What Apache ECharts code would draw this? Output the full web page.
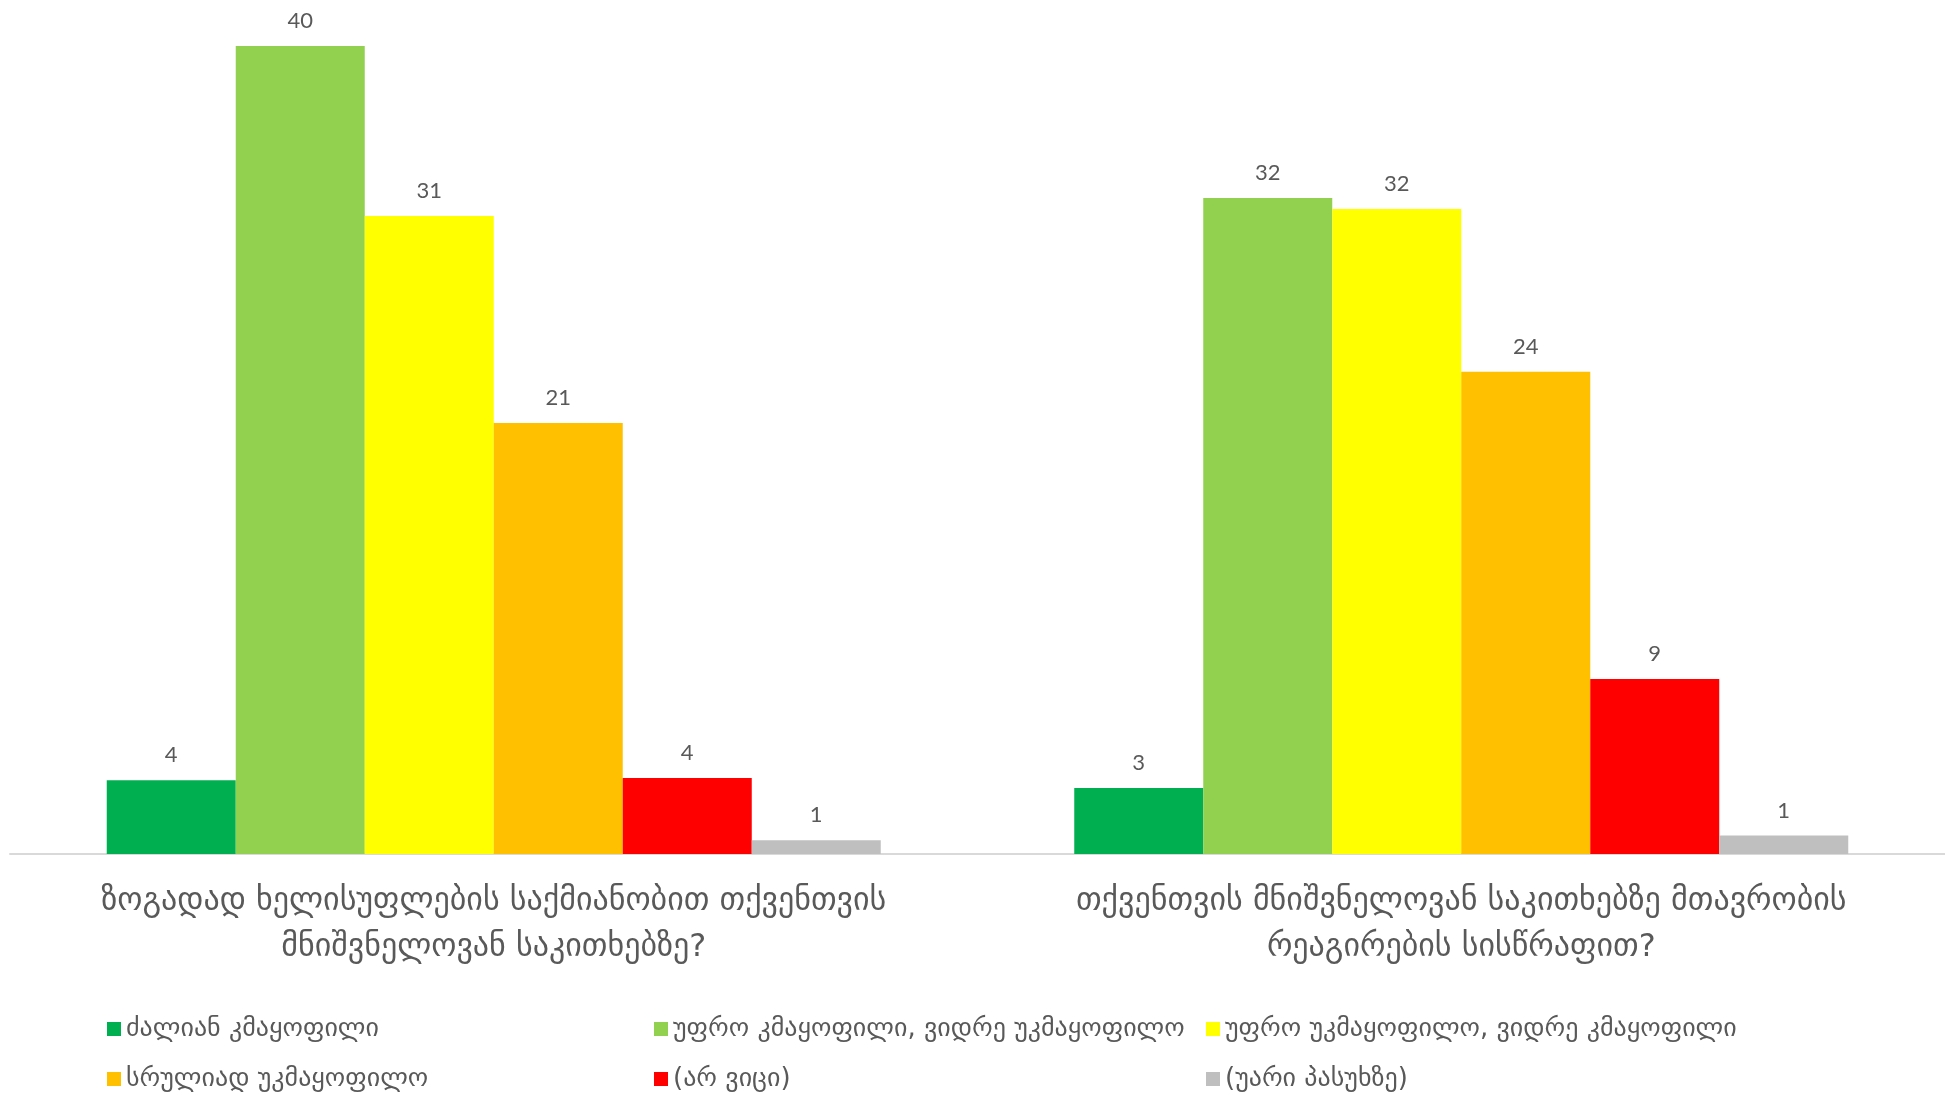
<!DOCTYPE html>
<html>
<head>
<meta charset="utf-8">
<script src="https://cdn.jsdelivr.net/npm/echarts@6/dist/echarts.min.js"></script>
<style>html,body{margin:0;padding:0;background:#fff}#c{width:1945px;height:1095px}</style>
</head>
<body>
<div id="c"></div>
<script>
const categories = [
  'ზოგადად ხელისუფლების საქმიანობით თქვენთვის\nმნიშვნელოვან საკითხებზე?',
  'თქვენთვის მნიშვნელოვან საკითხებზე მთავრობის\nრეაგირების სისწრაფით?'
];
const seriesNames = [
  'ძალიან კმაყოფილი',
  'უფრო კმაყოფილი, ვიდრე უკმაყოფილო',
  'უფრო უკმაყოფილო, ვიდრე კმაყოფილი',
  'სრულიად უკმაყოფილო',
  '(არ ვიცი)',
  '(უარი პასუხზე)'
];
const veryPleased = [3.62, 3.24];
const ratherPleased = [39.7, 32.24];
const ratherDispleased = [31.35, 31.7];
const fullyDispleased = [21.18, 23.7];
const dontKnow = [3.73, 8.6];
const refused = [0.67, 0.91];
const seriesValues = [veryPleased, ratherPleased, ratherDispleased, fullyDispleased, dontKnow, refused];
const colors = ['#00B050', '#92D050', '#FFFF00', '#FFC000', '#FF0000', '#BFBFBF'];

const geoFont = '"DejaVu Sans", "Noto Sans", sans-serif';
const legendPos = [[107, 1014], [654, 1014], [1206, 1014], [107, 1064], [654, 1064], [1206, 1064]];

const chart = echarts.init(document.getElementById('c'));
chart.setOption({
  animation: false,
  color: colors,
  grid: { left: 10, right: 0, top: 40, bottom: 241, containLabel: false },
  xAxis: {
    type: 'category',
    data: categories,
    axisLine: { show: true, lineStyle: { color: '#D9D9D9', width: 2 } },
    axisTick: { show: false },
    axisLabel: {
      margin: 25, color: '#595959', fontFamily: geoFont, fontSize: 32,
      lineHeight: 46, align: 'center', interval: 0
    }
  },
  yAxis: { type: 'value', min: 0, max: 40, show: false, splitLine: { show: false } },
  legend: seriesNames.map((n, i) => ({
    data: [n], left: legendPos[i][0], top: legendPos[i][1], padding: 0,
    itemWidth: 14, itemHeight: 14, icon: 'rect', itemGap: 0,
    textStyle: { color: '#595959', fontFamily: geoFont, fontSize: 26, lineHeight: 30 }
  })),
  series: seriesNames.map((n, i) => ({
    name: n, type: 'bar', data: seriesValues[i],
    barGap: '0%', barCategoryGap: '20%',
    itemStyle: { color: colors[i] },
    label: {
      show: true, position: 'top', distance: 14, color: '#595959',
      fontFamily: 'Lato, "Open Sans", sans-serif', fontSize: 22,
      formatter: p => Math.round(p.value)
    }
  }))
});
</script>
</body>
</html>
